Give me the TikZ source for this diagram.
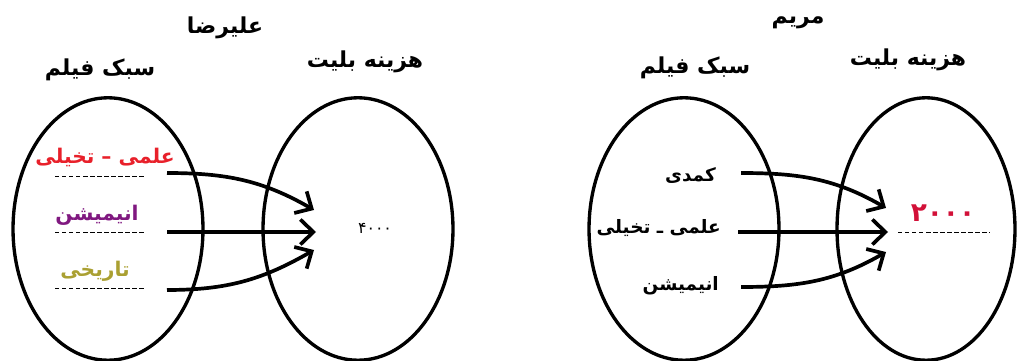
\documentclass[tikz,border=0pt]{standalone}
\usepackage{fontspec}
\usetikzlibrary{arrows.meta,shapes.geometric,positioning}
\TeXXeTstate=1
\newfontfamily\arabicfont[Script=Arabic]{DejaVu Sans}
\definecolor{fred}{RGB}{232,32,42}
\definecolor{fpurple}{RGB}{128,24,128}
\definecolor{folive}{RGB}{170,160,50}
\definecolor{fcrimson}{RGB}{210,16,56}

\begin{document}
\begin{tikzpicture}
  [x=0.02cm, y=-0.02cm,
   set/.style={draw, ellipse, line width=1.9pt, minimum width=3.8cm, minimum height=5.25cm},
   head/.style={font=\arabicfont\bfseries\fontsize{12.5}{14}\selectfont},
   item/.style={font=\arabicfont\bfseries\fontsize{11.5}{13}\selectfont},
   smallitem/.style={font=\arabicfont\bfseries\fontsize{10.5}{12}\selectfont, anchor=east},
   link/.style={line width=2.1pt, -{Straight Barb[length=2.6mm,width=5mm]}},
   under/.style={dash pattern=on 2.5pt off 1.5pt, line width=0.5pt}]
  \useasboundingbox (0,0) rectangle (1017,361);

  % alireza
  \node[head] (aname) at (225,28) {\beginR علیرضا\endR};
  \node[set] (astyle) at (108,229) {};
  \node[set] (acost) at (358,229) {};
  \node[head] (astyleh) at (100,70) {\beginR سبک فیلم\endR};
  \node[head] (acosth) at (365,62) {\beginR هزینه بلیت\endR};

  \node[item, text=fred] (a1) at (105,158) {\beginR علمی – تخیلی\endR};
  \node[item, text=fpurple] (a2) at (97,215) {\beginR انیمیشن\endR};
  \node[item, text=folive] (a3) at (95,271) {\beginR تاریخی\endR};
  \foreach \y in {176,232,288}
    \draw[under] (55,\y) -- (145,\y);
  \node[font=\arabicfont\fontsize{9}{10}\selectfont] (aval) at (375,228) {۴۰۰۰};

  \coordinate (a1s) at (167,173);
  \coordinate (a2s) at (167,232);
  \coordinate (a3s) at (167,290);
  \coordinate (a1e) at (314,210);
  \coordinate (a2e) at (316,232);
  \coordinate (a3e) at (314,250);
  \draw[link] (a1s) to[out=0,in=150] (a1e);
  \draw[link] (a2s) -- (a2e);
  \draw[link] (a3s) to[out=0,in=-150] (a3e);

  % maryam
  \node[head] (mname) at (798,23) {\beginR مریم\endR};
  \node[set] (mstyle) at (684,229) {};
  \node[set, minimum width=3.56cm] (mcost) at (926,229) {};
  \node[head] (mstyleh) at (695,68) {\beginR سبک فیلم\endR};
  \node[head] (mcosth) at (908,60) {\beginR هزینه بلیت\endR};

  \node[smallitem] (m1) at (722,175) {\beginR کمدی\endR};
  \node[smallitem] (m2) at (727,228) {\beginR علمی ـ تخیلی\endR};
  \node[smallitem] (m3) at (725,286) {\beginR انیمیشن\endR};
  \node[font=\arabicfont\bfseries\fontsize{15}{16}\selectfont, text=fcrimson] (mval) at (943,213) {۲۰۰۰};
  \draw[under] (898,232) -- (990,232);

  \coordinate (m1s) at (741,173);
  \coordinate (m2s) at (738,232);
  \coordinate (m3s) at (741,287);
  \coordinate (m1e) at (886,208);
  \coordinate (m2e) at (888,232);
  \coordinate (m3e) at (886,252);
  \draw[link] (m1s) to[out=0,in=150] (m1e);
  \draw[link] (m2s) -- (m2e);
  \draw[link] (m3s) to[out=0,in=-150] (m3e);
\end{tikzpicture}
\end{document}
